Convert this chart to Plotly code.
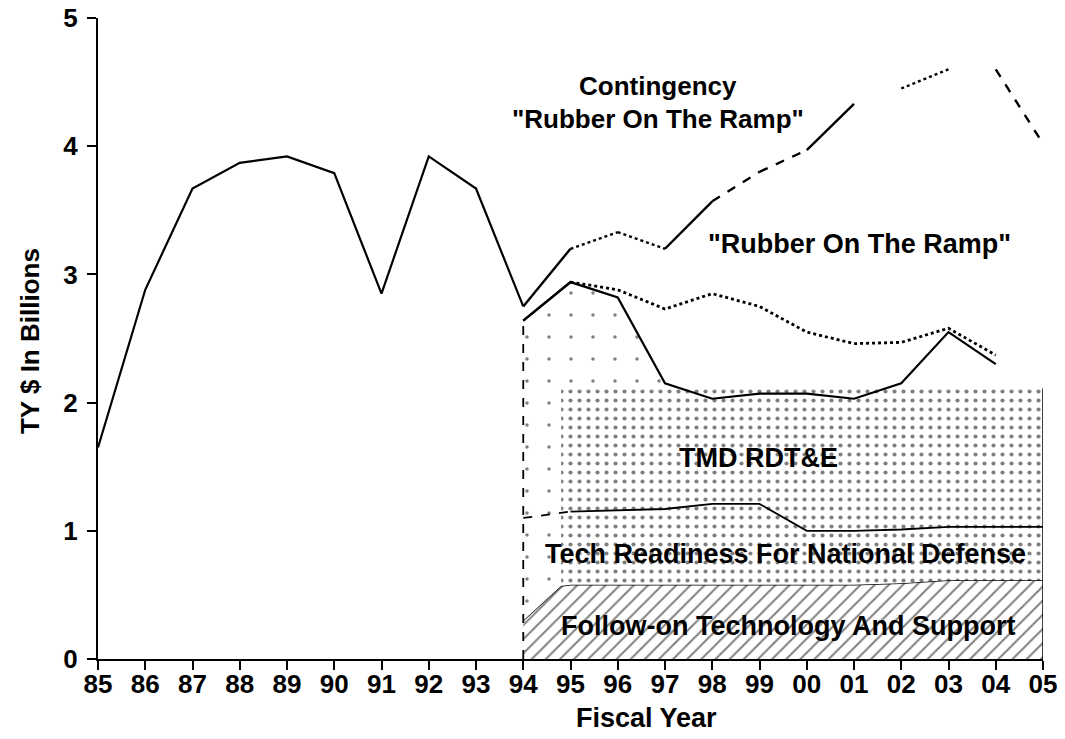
import plotly.graph_objects as go

# ---------------- data ----------------
years_hist = [1985, 1986, 1987, 1988, 1989, 1990, 1991, 1992, 1993, 1994]
hist = [1.65, 2.88, 3.67, 3.87, 3.92, 3.79, 2.85, 3.92, 3.67, 2.75]

years_proj = [1994, 1995, 1996, 1997, 1998, 1999, 2000, 2001, 2002, 2003, 2004, 2005]
contingency = [2.75, 3.20, 3.33, 3.20, 3.57, 3.80, 3.97, 4.33, 4.45, 4.60, 4.60, 4.02]
rubber = [2.64, 2.94, 2.88, 2.73, 2.85, 2.75, 2.55, 2.46, 2.47, 2.58, 2.37]
rdte_line = [2.64, 2.94, 2.82, 2.15, 2.03, 2.07, 2.07, 2.03, 2.15, 2.55, 2.30]
tech_line = [1.10, 1.15, 1.16, 1.17, 1.21, 1.21, 1.00, 1.00, 1.01, 1.03, 1.03, 1.03]
followon = [0.30, 0.58, 0.58, 0.58, 0.58, 0.58, 0.58, 0.58, 0.59, 0.615, 0.615, 0.615]

# left edge of the patterned bands
fill_start = 1994.8
tech_edge = 1.14
followon_edge = 0.57
tmd_top = [2.11, 2.11, 2.11, 2.11, 2.11, 2.11, 2.11, 2.11, 2.11, 2.11, 2.11, 2.11]

all_years = list(range(1985, 2006))
tick_labels = [f"{y % 100:02d}" for y in all_years]
y_ticks = [0, 1, 2, 3, 4, 5]

# segment styles of the contingency line (None = gap in the print)
cont_dash = ["solid", "dot", "dot", "solid", "dash", "dash", "solid", None, "dot", None, "dash"]

FONT = "Liberation Sans, Arial, Helvetica, sans-serif"
BLACK = "black"

band_years = [fill_start] + years_proj[1:]
followon_band = [followon_edge] + followon[1:]
tech_band = [tech_edge] + tech_line[1:]

dots = dict(shape=".", fgcolor=BLACK, bgcolor="white", size=9, solidity=0.17)

fig = go.Figure()

# Follow-on Technology And Support (hatched)
fig.add_trace(go.Scatter(
    x=years_proj[:1] + band_years, y=followon[:1] + followon_band,
    mode="lines", line=dict(color=BLACK, width=1.5),
    fill="tozeroy", fillcolor="white",
    fillpattern=dict(shape="/", fgcolor=BLACK, bgcolor="white", size=10, solidity=0.2),
    hoverinfo="skip", showlegend=False))

# baseline for tech band
fig.add_trace(go.Scatter(x=band_years, y=followon_band, mode="lines",
                         line=dict(width=0, color=BLACK), hoverinfo="skip", showlegend=False))
# Tech readiness band (dotted)
fig.add_trace(go.Scatter(
    x=band_years, y=tech_band, mode="lines", line=dict(width=0, color=BLACK),
    fill="tonexty", fillcolor="white", fillpattern=dots,
    hoverinfo="skip", showlegend=False))
# TMD RDT&E band (dotted)
fig.add_trace(go.Scatter(
    x=band_years, y=tmd_top, mode="lines", line=dict(width=0, color=BLACK),
    fill="tonexty", fillcolor="white", fillpattern=dots,
    hoverinfo="skip", showlegend=False))

# sparse dotted region at the start of the projection
sx = years_proj[:4] + [fill_start, fill_start, years_proj[0], years_proj[0]]
sy = rdte_line[:4] + [tmd_top[0], followon_edge, followon[0], rdte_line[0]]
fig.add_trace(go.Scatter(
    x=sx, y=sy, mode="lines", line=dict(width=0, color=BLACK),
    fill="toself", fillcolor="white",
    fillpattern=dict(shape=".", fgcolor=BLACK, bgcolor="white", size=22, solidity=0.02),
    hoverinfo="skip", showlegend=False))

# right edge of the bands
fig.add_trace(go.Scatter(x=[years_proj[-1], years_proj[-1]], y=[0, tmd_top[-1]], mode="lines",
                         line=dict(color=BLACK, width=1.5), hoverinfo="skip", showlegend=False))
# vertical dashed line at FY94
fig.add_trace(go.Scatter(x=[years_proj[0], years_proj[0]], y=[0, rubber[0]], mode="lines",
                         line=dict(color=BLACK, width=1.8, dash="dash"), hoverinfo="skip", showlegend=False))

# historical line
fig.add_trace(go.Scatter(x=years_hist, y=hist, mode="lines",
                         line=dict(color=BLACK, width=2.2), hoverinfo="skip", showlegend=False))

# contingency line, segment by segment
for i, d in enumerate(cont_dash):
    if d is None:
        continue
    fig.add_trace(go.Scatter(x=years_proj[i:i + 2], y=contingency[i:i + 2], mode="lines",
                             line=dict(color=BLACK, width=2.4, dash=d),
                             hoverinfo="skip", showlegend=False))

# rubber on the ramp (dotted)
fig.add_trace(go.Scatter(x=years_proj[:2], y=rubber[:2], mode="lines",
                         line=dict(color=BLACK, width=2.2), hoverinfo="skip", showlegend=False))
fig.add_trace(go.Scatter(x=years_proj[1:len(rubber)], y=rubber[1:], mode="lines",
                         line=dict(color=BLACK, width=2.8, dash="dot"), hoverinfo="skip", showlegend=False))
# RDT&E line (solid)
fig.add_trace(go.Scatter(x=years_proj[:len(rdte_line)], y=rdte_line, mode="lines",
                         line=dict(color=BLACK, width=2.2), hoverinfo="skip", showlegend=False))
# tech readiness line
fig.add_trace(go.Scatter(x=years_proj[:2], y=tech_line[:2], mode="lines",
                         line=dict(color=BLACK, width=1.8, dash="dash"), hoverinfo="skip", showlegend=False))
fig.add_trace(go.Scatter(x=years_proj[1:], y=tech_line[1:], mode="lines",
                         line=dict(color=BLACK, width=1.8), hoverinfo="skip", showlegend=False))

annotations = [
    dict(x=1996.86, y=4.47, text="Contingency", size=26),
    dict(x=1996.86, y=4.215, text='"Rubber On The Ramp"', size=26),
    dict(x=2001.12, y=3.24, text='"Rubber On The Ramp"', size=27),
    dict(x=1998.98, y=1.57, text="TMD RDT&E", size=27),
    dict(x=1999.56, y=0.82, text="Tech Readiness For National Defense", size=27),
    dict(x=1999.60, y=0.26, text="Follow-on Technology And Support", size=27),
]
for a in annotations:
    fig.add_annotation(x=a["x"], y=a["y"], text=a["text"], showarrow=False,
                       xref="x", yref="y", align="center",
                       font=dict(family=FONT, size=a["size"], color=BLACK, weight="bold"),
                       xanchor="center", yanchor="middle")

# axis titles
fig.add_annotation(x=-0.072, y=2.48, xref="paper", yref="y", text="TY $ In Billions",
                   textangle=-90, showarrow=False, xanchor="center", yanchor="middle",
                   font=dict(family=FONT, size=26, color=BLACK, weight="bold"))
fig.add_annotation(x=1996.61, y=-0.092, xref="x", yref="paper", text="Fiscal Year",
                   showarrow=False, xanchor="center", yanchor="middle",
                   font=dict(family=FONT, size=27, color=BLACK, weight="bold"))

fig.update_layout(
    width=1065, height=739,
    margin=dict(l=98, r=22, t=18, b=80),
    paper_bgcolor="white", plot_bgcolor="white",
    showlegend=False,
    xaxis=dict(range=[1985, 2005], tickvals=all_years, ticktext=tick_labels, automargin=False,
               showgrid=False, zeroline=False, showline=True, linecolor=BLACK, linewidth=2,
               ticks="outside", ticklen=9, tickwidth=1.5, tickcolor=BLACK, ticklabelstandoff=-8,
               ticklabeloverflow="allow",
               tickfont=dict(family=FONT, size=26, color=BLACK, weight="bold")),
    yaxis=dict(range=[0, 5], tickvals=y_ticks, automargin=False,
               showgrid=False, zeroline=False, showline=True, linecolor=BLACK, linewidth=2,
               ticks="outside", ticklen=9, tickwidth=1.5, tickcolor=BLACK, ticklabelstandoff=4,
               ticklabeloverflow="allow",
               tickfont=dict(family=FONT, size=26, color=BLACK, weight="bold")),
)

# remove the default 8px page margin so the figure fills the window exactly
fig.write_html("out.html", config={"displayModeBar": False},
               post_script="document.body.style.margin='0';")
